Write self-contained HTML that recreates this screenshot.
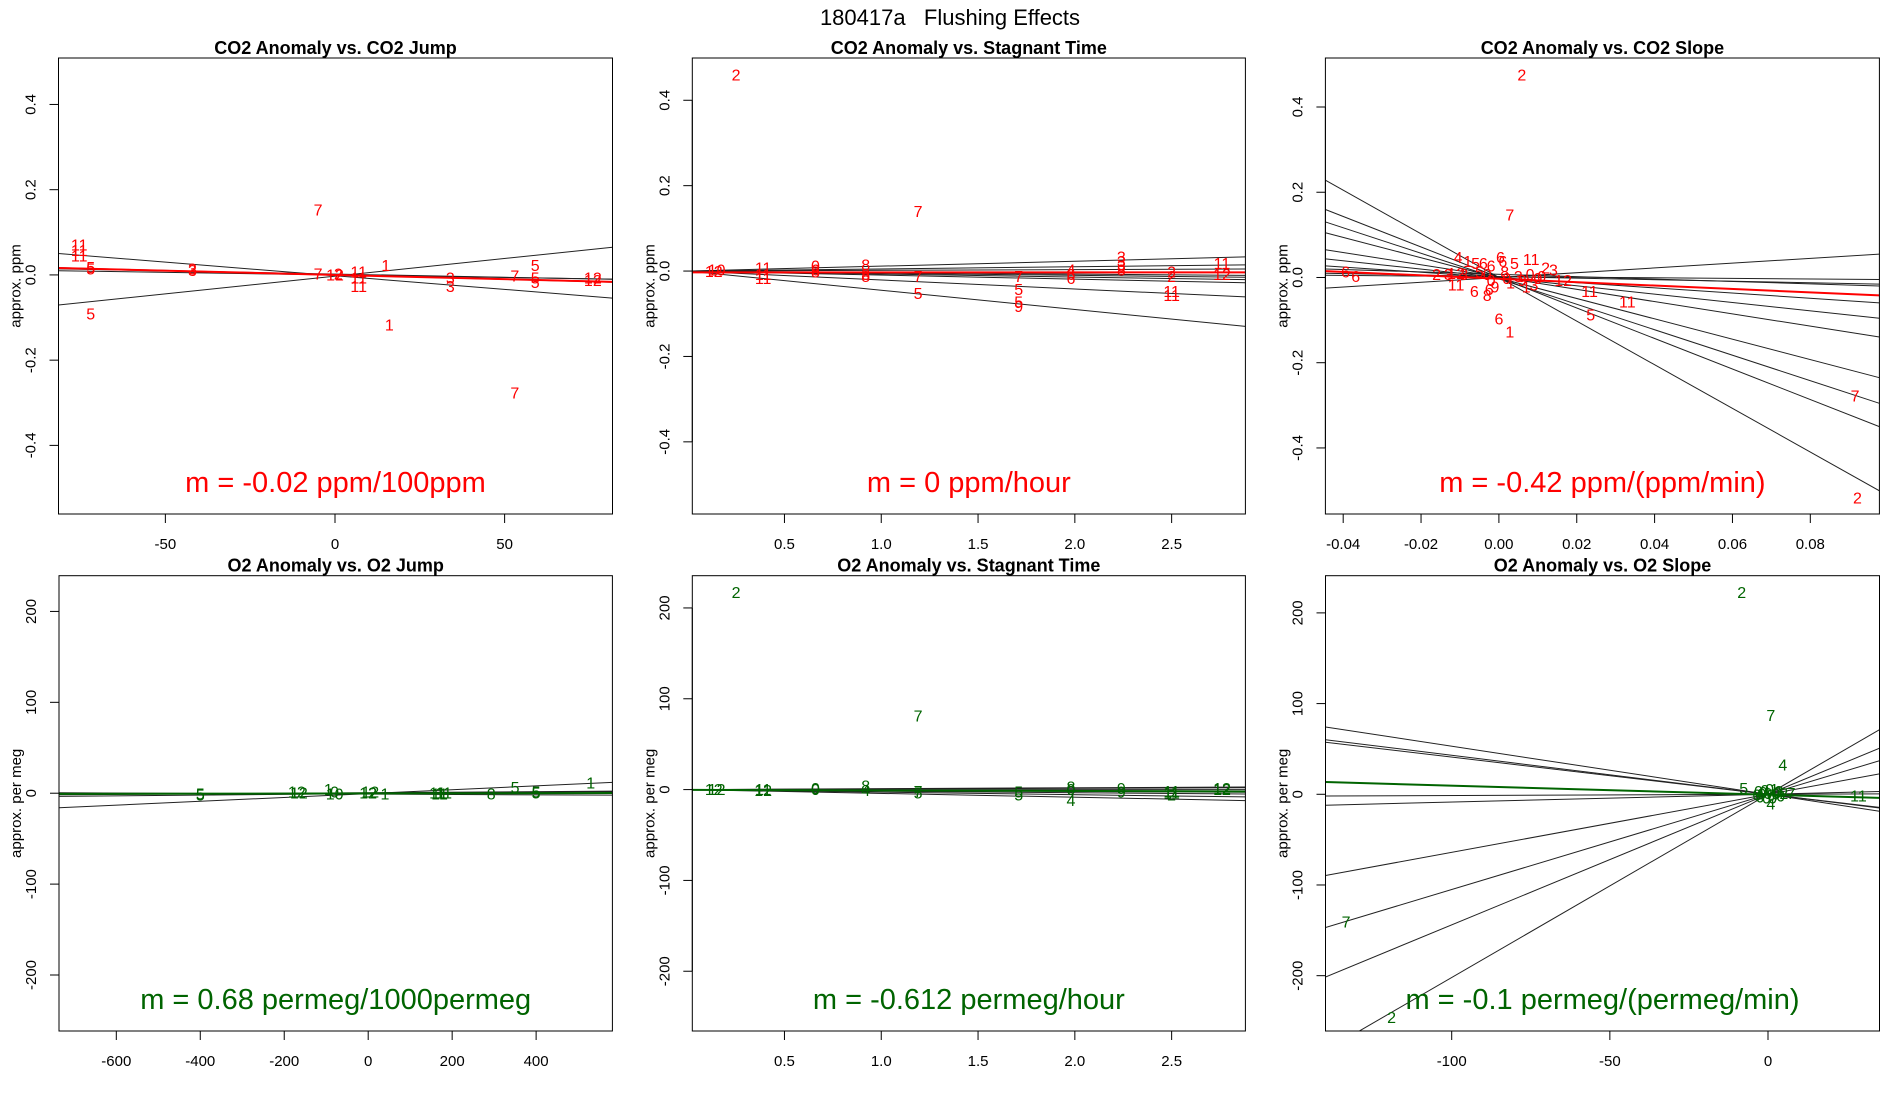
<!DOCTYPE html>
<html><head><meta charset="utf-8"><title>180417a Flushing Effects</title>
<style>
html,body{margin:0;padding:0;background:#fff;}
svg{display:block;font-family:"Liberation Sans",Arial,sans-serif;}
</style></head>
<body>
<svg id="fig" width="1900" height="1100" viewBox="0 0 1900 1100" xmlns="http://www.w3.org/2000/svg">
<text x="950" y="25" font-size="22" text-anchor="middle" style="white-space:pre" xml:space="preserve">180417a   Flushing Effects</text>
</svg>
<script>
// ---- Panel 1: CO2 anomaly vs CO2 jump ----
const p1X=[-75.4,-75.4,-75.4,-72,-72,-42,-42,-5,-5,0,1,7,7,7,15,16,-72,34,34,53,53,59,59,59,76,76];
const p1Y=[0.068,0.055,0.042,0.015,0.012,0.012,0.008,0.0,0.15,-0.003,0.0,0.005,-0.01,-0.03,0.02,-0.12,-0.094,-0.01,-0.03,-0.005,-0.28,0.02,-0.01,-0.02,-0.01,-0.015];
const p1L=["11","11","11","5","5","3","3","7","7","12","2","11","11","11","1","1","5","3","3","7","7","5","5","5","12","12"];
const p1Slopes=[-0.00064,0.00083,-0.00021,-0.00012,-0.00015];
const p1Ints=[-0.002,-0.003,0.0,0.0,0.002];
const p1FitSlope=-0.0002, p1FitInt=0.0;
const p1XTicks=[-50,0,50], p1YTicks=[-0.4,-0.2,0.0,0.2,0.4];
const p1XTickLabels=["-50","0","50"], p1YTickLabels=["-0.4","-0.2","0.0","0.2","0.4"];

// ---- Panel 2: CO2 anomaly vs stagnant time ----
const p2X=[0.25,1.19,0.135,0.15,0.39,0.39,0.39,0.66,0.66,0.66,0.92,0.92,0.92,1.19,1.19,1.71,1.71,1.71,1.71,1.98,1.98,1.98,2.24,2.24,2.24,2.24,2.5,2.5,2.5,2.5,2.76,2.76];
const p2Y=[0.457,0.137,-0.003,0.0,0.005,-0.01,-0.02,0.01,0.0,-0.005,0.012,-0.01,-0.015,-0.015,-0.055,-0.015,-0.045,-0.075,-0.085,0.0,-0.01,-0.02,0.03,0.02,0.01,0.0,-0.005,-0.015,-0.05,-0.06,0.015,-0.01];
const p2L=["2","7","12","10","11","11","11","0","6","8","8","8","8","7","5","7","5","5","9","4","6","6","3","3","3","8","2","2","11","11","11","12"];
const p2Slopes=[0.0115,0.005,0.0017,-0.0035,-0.005,-0.007,-0.0095,-0.021,-0.045];
const p2Ints=[0,0,0,0,0,0,0,0,0];
const p2FitSlope=0.0, p2FitInt=-0.003;
const p2XTicks=[0.5,1.0,1.5,2.0,2.5], p2YTicks=[-0.4,-0.2,0.0,0.2,0.4];
const p2XTickLabels=["0.5","1.0","1.5","2.0","2.5"], p2YTickLabels=["-0.4","-0.2","0.0","0.2","0.4"];

// ---- Panel 3: CO2 anomaly vs CO2 slope ----
const p3X=[0.0059,0.0028,0.0915,0.0921,-0.0394,-0.0368,-0.0105,-0.008,-0.006,-0.004,-0.002,0.0004,0.001,0.004,0.0083,0.012,0.014,0.0165,0.0233,0.033,0.0236,0,0.0028,-0.0063,-0.003,-0.01,-0.012,-0.016,-0.013,-0.011,-0.009,-0.003,-0.002,-0.001,0.002,0.003,0.005,0.006,0.008,0.009,0.01,0.007,0.0015,-0.005,0.011,-0.0025];
const p3Y=[0.473,0.144,-0.28,-0.52,0.01,0.0,0.045,0.035,0.03,0.03,0.025,0.045,0.035,0.03,0.04,0.02,0.015,-0.01,-0.035,-0.06,-0.09,-0.10,-0.13,-0.035,-0.045,-0.02,-0.02,0.005,0.005,0.007,0.005,0.005,-0.01,-0.025,-0.005,-0.015,0.0,-0.01,0.005,-0.02,-0.005,-0.025,0.01,0.01,0.0,-0.03];
const p3L=["2","7","7","2","6","6","4","1","5","6","6","6","6","5","11","2","3","12","11","11","5","6","1","6","8","1","1","2","3","12","3","0","0","9","0","1","3","9","0","3","0","1","8","5","0","6"];
const p3Slopes=[-5.12,-3.58,-2.99,-2.39,-1.44,-0.98,-0.61,-0.28,-0.18,-0.07,0.56];
const p3Ints=[0.0,0.0,-0.003,-0.0015,0.001,0.0,0.0,0.0075,0.002,0.002,0.0];
const p3FitSlope=-0.40, p3FitInt=-0.003;
const p3XTicks=[-0.04,-0.02,0.0,0.02,0.04,0.06,0.08], p3YTicks=[-0.4,-0.2,0.0,0.2,0.4];
const p3XTickLabels=["-0.04","-0.02","0.00","0.02","0.04","0.06","0.08"], p3YTickLabels=["-0.4","-0.2","0.0","0.2","0.4"];

// ---- Panel 4: O2 anomaly vs O2 jump ----
const p4X=[-400,-400,-170,-165,-95,-80,-80,0,5,10,40,165,170,180,293,350,400,400,530];
const p4Y=[-3,-2,0,-1,3,0,-2,-1,0,-1,-2,-1,-2,-1,-2,5,0,-1,10];
const p4L=["5","5","12","12","1","0","10","12","12","2","1","11","11","11","8","5","5","5","1"];
const p4Slopes=[0.0212,0.003,-0.002,0.004];
const p4Ints=[-0.4,0.5,-1.0,-0.5];
const p4FitSlope=0.00068, p4FitInt=-0.2;
const p4XTicks=[-600,-400,-200,0,200,400], p4YTicks=[-200,-100,0,100,200];
const p4XTickLabels=["-600","-400","-200","0","200","400"], p4YTickLabels=["-200","-100","0","100","200"];

// ---- Panel 5: O2 anomaly vs stagnant time ----
const p5X=[0.25,1.19,0.135,0.15,0.39,0.39,0.66,0.66,0.92,0.92,1.19,1.19,1.71,1.71,1.98,1.98,1.98,2.24,2.24,2.5,2.5,2.5,2.76,2.76];
const p5Y=[216,80,-1,-1,-2,-1,-1,0,3,-2,-3,-5,-4,-7,2,-1,-13,0,-4,-3,-5,-7,0,-1];
const p5L=["2","7","12","12","12","11","0","0","8","4","7","5","5","5","8","0","4","9","9","11","11","2","12","12"];
const p5Slopes=[1.0,0.7,0,-1.0,-1.7,-2.8,-4.2];
const p5Ints=[0,0,0,0,0,0,0];
const p5FitSlope=-0.612, p5FitInt=-0.3;
const p5XTicks=[0.5,1.0,1.5,2.0,2.5], p5YTicks=[-200,-100,0,100,200];
const p5XTickLabels=["0.5","1.0","1.5","2.0","2.5"], p5YTickLabels=["-200","-100","0","100","200"];

// ---- Panel 6: O2 anomaly vs O2 slope ----
const p6X=[-8.3,0.9,4.7,-7.7,0.9,7.3,28.6,-133.4,-119,-3,-2,-1,0,1,2,3,4,-2.5,-0.5,1.5,3.5,-1.5,0.5,2.5,5,-3.5];
const p6Y=[221.6,86,31,5,-12,0,-3,-142,-247,2,-1,3,0,-2,4,1,-3,-4,-5,-5,2,1,4,-1,0,-2];
const p6L=["2","7","4","5","4","7","11","7","2","0","0","0","0","0","1","0","0","0","0","0","3","0","0","0","2","0"];
const p6Slopes=[2.02,1.44,1.05,0.64,-0.53,-0.43,-0.41,0.014,0.086];
const p6Ints=[0,0,0,0,0,0,0,0,0];
const p6FitSlope=-0.1, p6FitInt=-0.5;
const p6XTicks=[-100,-50,0], p6YTicks=[-200,-100,0,100,200];
const p6XTickLabels=["-100","-50","0"], p6YTickLabels=["-200","-100","0","100","200"];

const NS="http://www.w3.org/2000/svg";
const svg=document.getElementById('fig');
function mk(tag,attrs,parent){const e=document.createElementNS(NS,tag);for(const k in attrs)e.setAttribute(k,attrs[k]);(parent||svg).appendChild(e);return e;}

const RED="#ff0000", GREEN="#006400";
const panels=[
 {id:"p1",box:[58.5,58,612.5,514],xl:[-81.5,81.8],yl:[-0.561,0.509],X:p1X,Y:p1Y,L:p1L,S:p1Slopes,I:p1Ints,fs:p1FitSlope,fi:p1FitInt,xt:p1XTicks,yt:p1YTicks,xtl:p1XTickLabels,ytl:p1YTickLabels,col:RED,title:"CO2 Anomaly vs. CO2 Jump",ylab:"approx. ppm",m:"m = -0.02 ppm/100ppm"},
 {id:"p2",box:[692.3,58,1245.4,514],xl:[0.024,2.881],yl:[-0.569,0.499],X:p2X,Y:p2Y,L:p2L,S:p2Slopes,I:p2Ints,fs:p2FitSlope,fi:p2FitInt,xt:p2XTicks,yt:p2YTicks,xtl:p2XTickLabels,ytl:p2YTickLabels,col:RED,title:"CO2 Anomaly vs. Stagnant Time",ylab:"approx. ppm",m:"m = 0 ppm/hour"},
 {id:"p3",box:[1325.4,58,1879.4,514],xl:[-0.04457,0.09775],yl:[-0.555,0.515],X:p3X,Y:p3Y,L:p3L,S:p3Slopes,I:p3Ints,fs:p3FitSlope,fi:p3FitInt,xt:p3XTicks,yt:p3YTicks,xtl:p3XTickLabels,ytl:p3YTickLabels,col:RED,title:"CO2 Anomaly vs. CO2 Slope",ylab:"approx. ppm",m:"m = -0.42 ppm/(ppm/min)"},
 {id:"p4",box:[59,575.7,612.4,1031],xl:[-736.5,581.7],yl:[-261.6,239.3],X:p4X,Y:p4Y,L:p4L,S:p4Slopes,I:p4Ints,fs:p4FitSlope,fi:p4FitInt,xt:p4XTicks,yt:p4YTicks,xtl:p4XTickLabels,ytl:p4YTickLabels,col:GREEN,title:"O2 Anomaly vs. O2 Jump",ylab:"approx. per meg",m:"m = 0.68 permeg/1000permeg"},
 {id:"p5",box:[692.3,575.7,1245.4,1031],xl:[0.024,2.881],yl:[-265.8,235.5],X:p5X,Y:p5Y,L:p5L,S:p5Slopes,I:p5Ints,fs:p5FitSlope,fi:p5FitInt,xt:p5XTicks,yt:p5YTicks,xtl:p5XTickLabels,ytl:p5YTickLabels,col:GREEN,title:"O2 Anomaly vs. Stagnant Time",ylab:"approx. per meg",m:"m = -0.612 permeg/hour"},
 {id:"p6",box:[1325.5,575.7,1879.5,1031],xl:[-139.9,35.25],yl:[-261,241],X:p6X,Y:p6Y,L:p6L,S:p6Slopes,I:p6Ints,fs:p6FitSlope,fi:p6FitInt,xt:p6XTicks,yt:p6YTicks,xtl:p6XTickLabels,ytl:p6YTickLabels,col:GREEN,title:"O2 Anomaly vs. O2 Slope",ylab:"approx. per meg",m:"m = -0.1 permeg/(permeg/min)"}
];

panels.forEach(function(p){
  const [L,T,R,B]=p.box;
  const sx=function(v){return L+(v-p.xl[0])/(p.xl[1]-p.xl[0])*(R-L);};
  const sy=function(v){return B-(v-p.yl[0])/(p.yl[1]-p.yl[0])*(B-T);};
  const g=mk('g',{});
  
  
  const cp=mk('clipPath',{id:'clip-'+p.id},g);
  mk('rect',{x:L,y:T,width:R-L,height:B-T},cp);
  const t=mk('text',{x:(L+R)/2,y:T-4,'font-size':18,'font-weight':'bold','text-anchor':'middle'},g);
  t.textContent=p.title;
  
  
  const yl=mk('text',{x:0,y:0,'font-size':15,'text-anchor':'middle',transform:'translate('+(L-38)+','+((T+B)/2)+') rotate(-90)'},g);
  yl.textContent=p.ylab;
  
  
  p.xt.forEach(function(v,i){
    const x=sx(v);
    const tk=mk('line',{x1:x,y1:B,x2:x,y2:B+9,stroke:'#000','stroke-width':1},g);
    
    
    const tl=mk('text',{x:x,y:B+35,'font-size':15,'text-anchor':'middle'},g);
    tl.textContent=p.xtl[i];
    
    
  });
  mk('line',{x1:sx(p.xt[0]),y1:B,x2:sx(p.xt[p.xt.length-1]),y2:B,stroke:'#000','stroke-width':1},g);
  p.yt.forEach(function(v,i){
    const y=sy(v);
    const tk=mk('line',{x1:L,y1:y,x2:L-9,y2:y,stroke:'#000','stroke-width':1},g);
    
    
    const tl=mk('text',{x:0,y:0,'font-size':15,'text-anchor':'middle',transform:'translate('+(L-23)+','+y+') rotate(-90)'},g);
    tl.textContent=p.ytl[i];
    
    
  });
  mk('line',{x1:L,y1:sy(p.yt[0]),x2:L,y2:sy(p.yt[p.yt.length-1]),stroke:'#000','stroke-width':1},g);
  const cg=mk('g',{'clip-path':'url(#clip-'+p.id+')'},g);
  p.S.forEach(function(s,i){
    const ln=mk('line',{x1:sx(p.xl[0]),y1:sy(p.I[i]+s*p.xl[0]),x2:sx(p.xl[1]),y2:sy(p.I[i]+s*p.xl[1]),stroke:'#222','stroke-width':1},cg);
    
    
  });
  p.X.forEach(function(xv,i){
    const tx=mk('text',{x:sx(xv),y:sy(p.Y[i]),'font-size':16,fill:p.col,'text-anchor':'middle','dominant-baseline':'central'},cg);
    tx.textContent=p.L[i];
    
    
  });
  const fl=mk('line',{x1:sx(p.xl[0]),y1:sy(p.fi+p.fs*p.xl[0]),x2:sx(p.xl[1]),y2:sy(p.fi+p.fs*p.xl[1]),stroke:p.col,'stroke-width':2},cg);
  
  
  const mt=mk('text',{x:(L+R)/2,y:B-22,'font-size':29,fill:p.col,'text-anchor':'middle'},g);
  mt.textContent=p.m;
  
  
  const bx=mk('rect',{x:L,y:T,width:R-L,height:B-T,fill:'none',stroke:'#000','stroke-width':1},g);
  
  
});
</script>
</body></html>
